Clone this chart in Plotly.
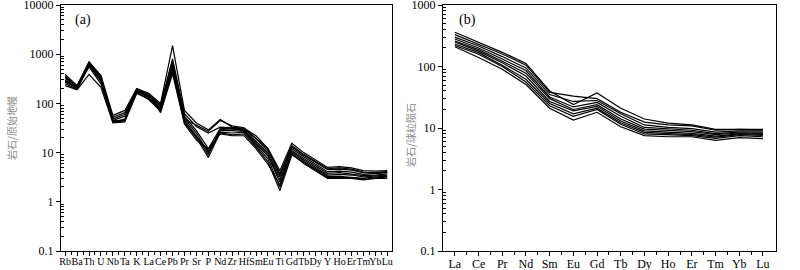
import plotly.graph_objects as go

# ---- data ----
spider_elements = ["Rb", "Ba", "Th", "U", "Nb", "Ta", "K", "La", "Ce", "Pb", "Pr", "Sr", "P", "Nd",
                   "Zr", "Hf", "Sm", "Eu", "Ti", "Gd", "Tb", "Dy", "Y", "Ho", "Er", "Tm", "Yb", "Lu"]

spider_s1 = [390, 230, 690, 370, 57, 72, 200, 160, 100, 1500, 72, 40, 29, 47, 33, 31, 22, 12, 4.3, 15.5, 10, 7.2, 5.0, 5.2, 4.9, 4.3, 4.2, 4.3]
spider_s2 = [340, 220, 650, 340, 52, 65, 190, 150, 95, 800, 62, 34, 25, 33, 32, 30, 19, 11, 3.8, 13, 8.8, 6.3, 4.5, 4.6, 4.4, 3.9, 3.9, 4.1]
spider_s3 = [300, 200, 600, 300, 48, 60, 180, 140, 90, 700, 55, 28, 12, 31, 30, 29, 17, 10, 3.2, 12, 8.2, 5.8, 4.1, 4.2, 4.0, 3.6, 3.7, 3.9]
spider_s4 = [280, 210, 620, 320, 45, 55, 170, 145, 85, 650, 50, 25, 10, 29, 31, 28, 16, 9.2, 2.8, 11, 7.6, 5.4, 3.8, 3.9, 3.7, 3.4, 3.5, 3.7]
spider_s5 = [250, 195, 580, 280, 42, 48, 175, 130, 80, 600, 46, 22, 9, 28, 28, 27, 15, 8.5, 2.5, 10.5, 7.1, 5.0, 3.5, 3.6, 3.5, 3.2, 3.3, 3.5]
spider_s6 = [230, 190, 390, 213, 40, 42, 165, 120, 70, 450, 42, 20, 8, 26, 25, 26, 14, 7.5, 2.0, 10, 6.6, 4.7, 3.3, 3.3, 3.2, 3.0, 3.2, 3.3]
spider_s7 = [320, 215, 550, 250, 44, 45, 160, 125, 75, 500, 40, 21, 11, 25, 23, 24, 13, 6.5, 1.7, 9, 6.3, 4.5, 3.1, 3.1, 3.1, 2.9, 3.0, 3.2]
spider_s8 = [270, 205, 660, 350, 41, 44, 185, 155, 65, 400, 38, 18, 12, 24, 22, 22, 12, 5.8, 2.2, 9.5, 6.0, 4.3, 3.0, 3.0, 3.0, 2.8, 3.0, 3.0]
spider_s9 = [360, 225, 700, 360, 43, 46, 195, 135, 78, 550, 48, 36, 27, 45, 35, 32, 20, 12, 3.5, 14, 9.2, 6.6, 4.7, 4.9, 4.6, 4.0, 3.8, 4.0]
spider_series = [spider_s1, spider_s2, spider_s3, spider_s4, spider_s5, spider_s6, spider_s7, spider_s8, spider_s9]

ree_elements = ["La", "Ce", "Pr", "Nd", "Sm", "Eu", "Gd", "Tb", "Dy", "Ho", "Er", "Tm", "Yb", "Lu"]

ree_s1 = [360, 245, 170, 112, 40, 24, 37, 21, 14, 12, 11.2, 9.5, 9.6, 9.5]
ree_s2 = [330, 230, 160, 105, 38, 33, 30, 18, 12.5, 11.2, 10.8, 9.2, 9.5, 9.3]
ree_s3 = [300, 215, 145, 95, 35, 27, 28, 17, 11.2, 10.2, 9.8, 8.6, 9.0, 9.0]
ree_s4 = [280, 200, 132, 86, 32, 22, 26, 15.5, 10.2, 9.6, 9.2, 8.1, 8.6, 8.6]
ree_s5 = [260, 188, 122, 78, 30, 20, 24, 14, 9.6, 9.1, 8.7, 7.8, 8.3, 8.2]
ree_s6 = [250, 178, 115, 70, 27, 19, 22.5, 13, 9.0, 8.6, 8.2, 7.4, 8.0, 7.9]
ree_s7 = [232, 168, 105, 62, 25, 17, 21, 12.2, 8.5, 8.1, 7.8, 7.1, 7.8, 7.6]
ree_s8 = [220, 158, 100, 56, 23, 15.5, 20, 11.5, 8.0, 7.8, 7.5, 6.8, 7.5, 7.2]
ree_s9 = [210, 140, 90, 51, 21, 13.5, 18, 10.5, 7.5, 7.2, 7.2, 6.3, 7.0, 6.7]
ree_series = [ree_s1, ree_s2, ree_s3, ree_s4, ree_s5, ree_s6, ree_s7, ree_s8, ree_s9]

left_ytick_vals = [0.1, 1, 10, 100, 1000, 10000]
left_ytick_text = ["0.1", "1", "10", "100", "1000", "10000"]
right_ytick_vals = [0.1, 1, 10, 100, 1000]
right_ytick_text = ["0.1", "1", "10", "100", "1000"]

left_title = "岩石/原始地幔"
right_title = "岩石/球粒陨石"

# ---- figure ----
W, H = 800, 270
fig = go.Figure()

x_left = list(range(len(spider_elements)))
x_right = list(range(len(ree_elements)))

for s in spider_series:
    fig.add_trace(go.Scatter(x=x_left, y=s, mode="lines", line=dict(color="black", width=1.2),
                             xaxis="x", yaxis="y", showlegend=False, hoverinfo="skip"))
for s in ree_series:
    fig.add_trace(go.Scatter(x=x_right, y=s, mode="lines", line=dict(color="black", width=1.2),
                             xaxis="x2", yaxis="y2", showlegend=False, hoverinfo="skip"))


def minor_log(lo, hi):
    vals = []
    d = lo
    while d < hi:
        for m in range(2, 10):
            vals.append(round(d * m, 6))
        d *= 10
    return vals


serif = "Liberation Serif"
axis_common = dict(showline=True, linecolor="black", linewidth=1.2, mirror=True,
                   showgrid=False, zeroline=False, ticks="outside", tickcolor="black",
                   tickwidth=1, automargin=False, ticklabeloverflow="allow")

y_top = 1 - 5 / H
y_bot = 1 - 251 / H

fig.update_layout(
    width=W, height=H,
    margin=dict(l=0, r=0, t=0, b=0),
    paper_bgcolor="white", plot_bgcolor="white",
    showlegend=False,
    font=dict(family=serif, color="black"),
    xaxis=dict(domain=[61 / W, 392 / W], range=[-0.35, 27.4], tickmode="array",
               tickvals=x_left, ticktext=spider_elements, ticklen=4, tickangle=0,
               ticklabelstandoff=-3,
               tickfont=dict(family=serif, size=10, color="black"),
               minor=dict(tickvals=[i + 0.5 for i in range(len(spider_elements) - 1)],
                          ticks="outside", ticklen=3, tickcolor="black"),
               anchor="y", **axis_common),
    yaxis=dict(domain=[y_bot, y_top], type="log", range=[-1, 4], tickmode="array",
               tickvals=left_ytick_vals, ticktext=left_ytick_text, ticklen=4,
               tickfont=dict(family=serif, size=12, color="black"),
               minor=dict(tickvals=minor_log(0.1, 10000), ticks="inside", ticklen=3, tickcolor="black"),
               anchor="x", **axis_common),
    xaxis2=dict(domain=[443 / W, 776 / W], range=[-0.5, 13.55], tickmode="array",
                tickvals=x_right, ticktext=ree_elements, ticklen=4, tickangle=0,
                ticklabelstandoff=-3,
                tickfont=dict(family=serif, size=12, color="black"),
                minor=dict(tickvals=[i + 0.5 for i in range(len(ree_elements) - 1)],
                           ticks="outside", ticklen=3, tickcolor="black"),
                anchor="y2", **axis_common),
    yaxis2=dict(domain=[y_bot, y_top], type="log", range=[-1, 3], tickmode="array",
                tickvals=right_ytick_vals, ticktext=right_ytick_text, ticklen=4,
                tickfont=dict(family=serif, size=12, color="black"),
                minor=dict(tickvals=minor_log(0.1, 1000), ticks="inside", ticklen=3, tickcolor="black"),
                anchor="x2", **axis_common),
    annotations=[
        dict(text="(a)", x=73 / W, y=1 - 20 / H, xref="paper", yref="paper", xanchor="left",
             yanchor="middle", showarrow=False, font=dict(family=serif, size=14, color="black")),
        dict(text="(b)", x=457 / W, y=1 - 20 / H, xref="paper", yref="paper", xanchor="left",
             yanchor="middle", showarrow=False, font=dict(family=serif, size=14, color="black")),
        dict(text=left_title, x=11 / W, y=1 - 128 / H, xref="paper", yref="paper", xanchor="center",
             yanchor="middle", showarrow=False, textangle=-90,
             font=dict(family="Noto Sans CJK SC", size=10, color="#888888")),
        dict(text=right_title, x=410 / W, y=1 - 135 / H, xref="paper", yref="paper", xanchor="center",
             yanchor="middle", showarrow=False, textangle=-90,
             font=dict(family="Noto Sans CJK SC", size=10, color="#888888")),
    ],
)

# remove the page's default 8px body margin so the 800x270 figure fills the window
fig.write_html("out.html", config={"displayModeBar": False},
               post_script="document.body.style.margin='0';")
